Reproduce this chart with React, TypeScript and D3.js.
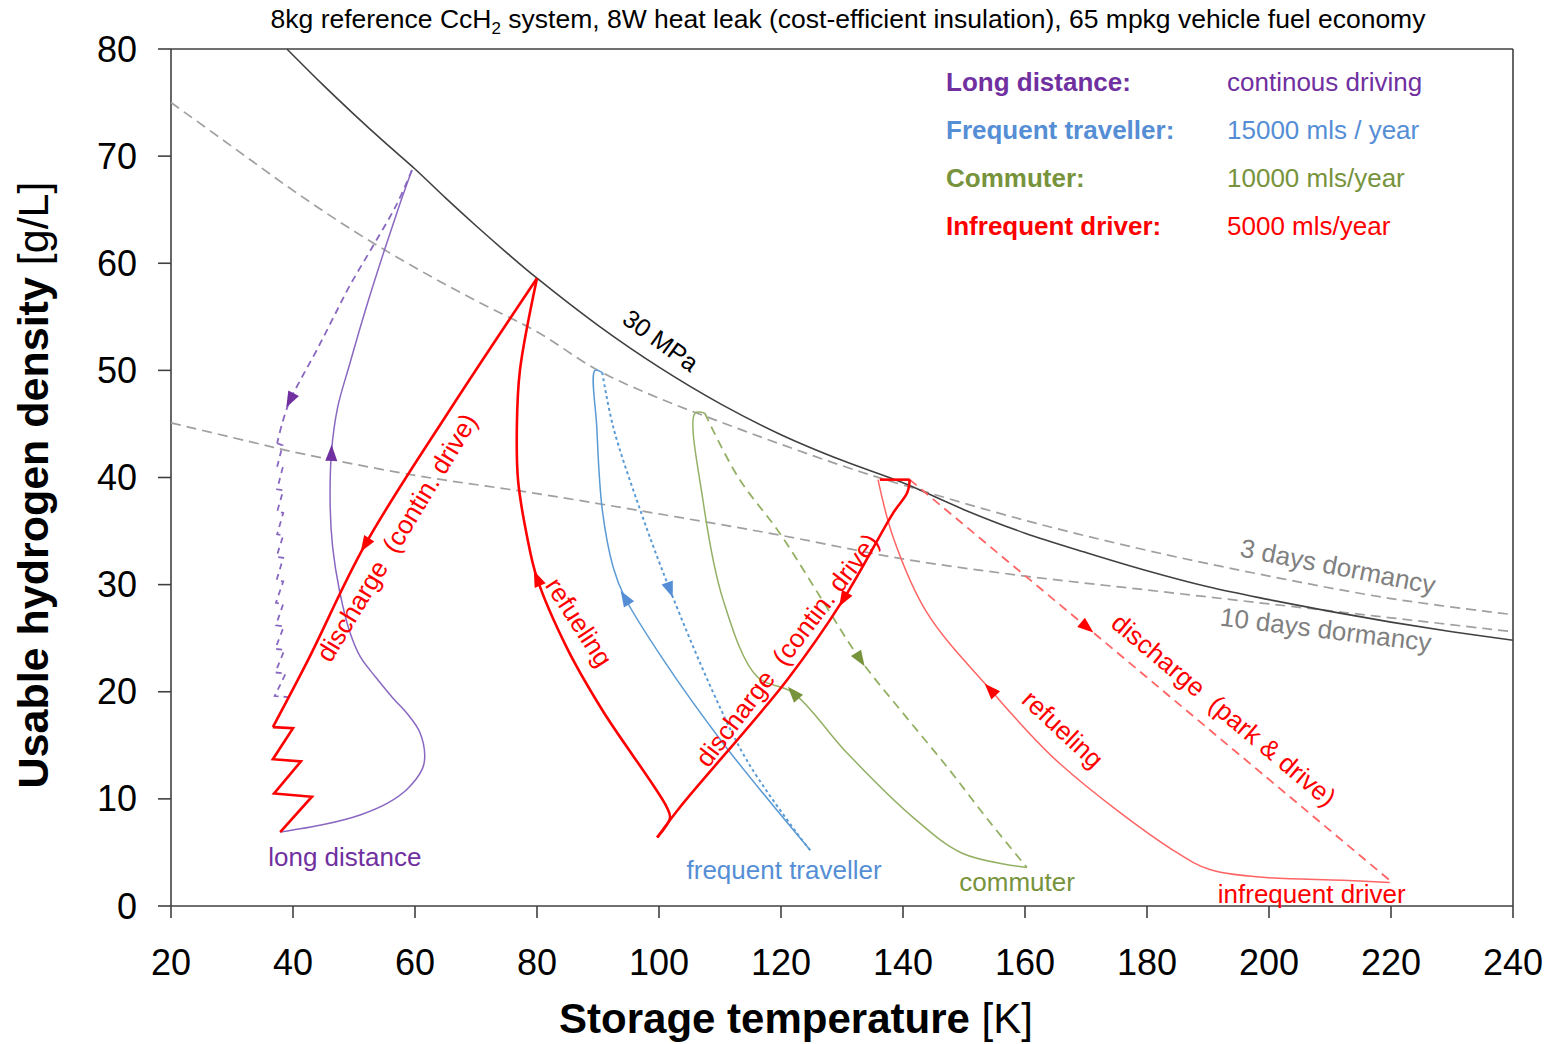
import React from "react";
import * as d3 from "d3";

type P = [number, number];

// ---- axes ----
const xTicks = [20, 40, 60, 80, 100, 120, 140, 160, 180, 200, 220, 240];
const yTicks = [0, 10, 20, 30, 40, 50, 60, 70, 80];

// ---- reference lines ----
const mpa30: P[] = [[39,80],[45,76.6],[50,73.9],[55,71.3],[60,68.8],[65,66.1],[70,63.5],[75,61.0],[80,58.6],[90,54.2],[100,50.3],[110,46.9],[120,44],[130,41.6],[140,39.5],[150,37],[160,34.8],[170,33],[180,31.3],[190,29.8],[200,28.6],[210,27.5],[220,26.5],[230,25.6],[240,24.8]];
const dormancy3: P[] = [[20,75],[30,70.9],[40,66.8],[50,63.0],[60,59.6],[70,56.5],[80,53.6],[90,50.0],[100,47.4],[110,45.2],[120,43.1],[130,41.1],[140,39.3],[160,36.0],[180,33.2],[200,30.8],[220,28.7],[240,27.2]];
const dormancy10: P[] = [[20,45.1],[34,43.2],[40,42.4],[60,40.2],[80,38.5],[100,36.6],[120,34.6],[140,32.4],[160,30.8],[180,29.5],[200,28.2],[220,26.9],[240,25.6]];

// ---- long distance (purple) ----
const ldRefuel: P[] = [[37.9,6.9],[45,7.6],[51.0,8.5],[55.5,9.6],[58.7,10.9],[61.2,12.8],[61.6,14.0],[60.8,16.2],[58.8,17.9],[56.4,19.4],[53.5,21.4],[51.0,23.3],[49.3,25.6],[47.6,29.5],[46.5,33.5],[46.1,37.2],[46.3,42.3],[47.3,46.5],[49.3,50.6],[51.8,55.5],[54.8,60.9],[57.5,65.5],[59.5,68.7]];
const ldDischarge: P[] = [[59.5,68.7],[57.0,65.5],[53.0,61.5],[49.3,57.9],[46.5,54.8],[43.9,51.9],[41.5,49.4],[39.5,47.2],[38.2,45.0],[37.4,43.2]];
const ldSaw: P[] = [[37.4,43.2],[38.3,43.0],[37.4,41.0],[38.3,40.9],[37.4,38.9],[38.4,38.8],[37.4,36.8],[38.4,36.7],[37.4,34.7],[38.4,34.6],[37.3,32.6],[38.4,32.5],[37.3,30.4],[38.4,30.3],[37.2,28.3],[38.4,28.2],[37.2,26.2],[38.5,26.1],[37.1,24.0],[38.6,23.9],[37.1,21.8],[38.8,21.7],[37.0,19.6],[39.2,19.5]];

// ---- red thick cycle (80 K) ----
const redDischarge1: P[] = [[80,58.6],[65.7,46.3],[51.8,33.7],[42.5,23.0],[36.7,16.7]];
const redZigzag: P[] = [[36.7,16.7],[40.0,16.6],[36.7,13.7],[41.3,13.5],[36.9,10.5],[43.1,10.2],[37.9,6.9]];
const redRefuel1: P[] = [[99.7,6.4],[101.8,8.2],[101.3,9.2],[90.8,18.2],[84.9,24.1],[80.0,30.6],[78.4,34.4],[76.9,39.7],[76.7,44.8],[77.2,50.0],[80,58.6]];

// ---- frequent traveller (blue) ----
const ftRefuel: P[] = [[124.8,5.2],[110.5,15.2],[100.7,23.0],[94.4,28.8],[92.5,31.6],[90.7,37.0],[89.8,44.7],[89.5,50.0],[90.7,49.8]];
const ftDischarge: P[] = [[90.7,49.8],[92.5,44.7],[96.9,37.0],[101.8,29.5],[108.9,19.9],[114.4,13.6],[122.6,6.8],[124.8,5.2]];

// ---- commuter (green) ----
const cmRefuel: P[] = [[160.3,3.6],[149.8,4.9],[141.6,8.3],[130.8,14.3],[122.0,19.9],[116.1,21.4],[110.5,28.6],[107.2,37.9],[105.9,46.0],[107.5,46.0]];
const cmDischarge: P[] = [[107.5,46.0],[113.0,40.0],[119.8,34.8],[126.5,28.8],[133.0,23.0],[140.0,18.0],[147.2,13.0],[154.0,8.0],[160.3,3.6]];

// ---- infrequent driver (red) ----
const idTop: P[] = [[136.2,39.8],[141.1,39.8]];
const idDischargeCont: P[] = [[141.1,39.8],[140.7,38.6],[138.4,36.7],[130.2,28.6],[121.0,21.1],[103.4,9.2],[99.7,6.4]];
const idRefuel: P[] = [[219.8,2.2],[212.1,2.4],[198.5,2.7],[190.3,3.4],[184.3,5.2],[165.7,13.3],[154.3,20.2],[143.9,27.4],[138.4,34.4],[135.9,39.8]];
const idParkDrive: P[] = [[141.1,39.8],[170.2,26.0],[220.2,2.2]];

const legendNames = ["Long distance:", "Frequent traveller:", "Commuter:", "Infrequent driver:"];
const legendValues = ["continous driving", "15000 mls / year", "10000 mls/year", "5000 mls/year"];

const C = {
  purple: "#7030A0",
  purpleLine: "#8A68C2",
  blue: "#558ED5",
  blueLine: "#5B9BD5",
  green: "#77933C",
  greenLine: "#94B064",
  red: "#FF0000",
  redThin: "#FF6464",
  gray: "#808080",
  grayLine: "#A0A0A0",
  black: "#404040",
};
const legendColors = [C.purple, C.blue, C.green, C.red];

const W = 1556, H = 1044;
const x = d3.scaleLinear().domain([20, 240]).range([171, 1513]);
const y = d3.scaleLinear().domain([0, 80]).range([906, 49]);

const smooth = d3.line<P>().x(d => x(d[0])).y(d => y(d[1])).curve(d3.curveCatmullRom.alpha(0.5));
const straight = d3.line<P>().x(d => x(d[0])).y(d => y(d[1])).curve(d3.curveLinear);

function arrow(pts: P[], at: P, len = 16, wid = 12): string {
  const Pp = pts.map(p => [x(p[0]), y(p[1])]);
  const T = [x(at[0]), y(at[1])];
  let best = Infinity, Q = T, dir = [1, 0];
  for (let i = 0; i < Pp.length - 1; i++) {
    const a = Pp[i], b = Pp[i + 1];
    const dx = b[0] - a[0], dy = b[1] - a[1];
    const L2 = dx * dx + dy * dy;
    if (L2 === 0) continue;
    let t = ((T[0] - a[0]) * dx + (T[1] - a[1]) * dy) / L2;
    t = Math.max(0, Math.min(1, t));
    const q = [a[0] + t * dx, a[1] + t * dy];
    const dd = Math.hypot(T[0] - q[0], T[1] - q[1]);
    if (dd < best) {
      best = dd; Q = q;
      const L = Math.sqrt(L2);
      dir = [dx / L, dy / L];
    }
  }
  const tip = [Q[0] + dir[0] * len / 2, Q[1] + dir[1] * len / 2];
  const base = [Q[0] - dir[0] * len / 2, Q[1] - dir[1] * len / 2];
  const n = [-dir[1], dir[0]];
  const b1 = [base[0] + n[0] * wid / 2, base[1] + n[1] * wid / 2];
  const b2 = [base[0] - n[0] * wid / 2, base[1] - n[1] * wid / 2];
  return `M${tip[0]},${tip[1]}L${b1[0]},${b1[1]}L${b2[0]},${b2[1]}Z`;
}

const arrows: { pts: P[]; at: P; color: string }[] = [
  { pts: ldDischarge, at: [39.5, 47.2], color: C.purple },
  { pts: ldRefuel, at: [46.3, 42.3], color: C.purple },
  { pts: redDischarge1, at: [51.8, 33.7], color: C.red },
  { pts: redRefuel1, at: [80.0, 30.6], color: C.red },
  { pts: ftRefuel, at: [94.4, 28.8], color: C.blue },
  { pts: ftDischarge, at: [101.8, 29.5], color: C.blue },
  { pts: cmRefuel, at: [122.0, 19.9], color: C.green },
  { pts: cmDischarge, at: [133.0, 23.0], color: C.green },
  { pts: idDischargeCont, at: [130.2, 28.6], color: C.red },
  { pts: idRefuel, at: [154.3, 20.2], color: C.red },
  { pts: idParkDrive, at: [170.2, 26.0], color: C.red },
];

const labels: { text: string; at: P; angle: number; color: string; size: number }[] = [
  { text: "30 MPa", at: [100.3, 52.8], angle: 36, color: "#000", size: 25 },
  { text: "discharge  (contin. drive)", at: [57.0, 34.4], angle: -58.7, color: C.red, size: 26 },
  { text: "refueling", at: [86.9, 26.5], angle: 57, color: C.red, size: 26 },
  { text: "discharge  (contin. drive)", at: [121.0, 23.9], angle: -52.8, color: C.red, size: 26 },
  { text: "refueling", at: [166.2, 16.5], angle: 43, color: C.red, size: 26 },
  { text: "discharge  (park & drive)", at: [192.6, 18.3], angle: 40, color: C.red, size: 26 },
  { text: "3 days dormancy", at: [211.3, 31.7], angle: 11, color: C.gray, size: 26 },
  { text: "10 days dormancy", at: [209.3, 25.8], angle: 7, color: C.gray, size: 26 },
  { text: "long distance", at: [48.5, 4.6], angle: 0, color: C.purple, size: 26 },
  { text: "frequent traveller", at: [120.5, 3.4], angle: 0, color: C.blue, size: 26 },
  { text: "commuter", at: [158.7, 2.2], angle: 0, color: C.green, size: 26 },
  { text: "infrequent driver", at: [207.0, 1.1], angle: 0, color: C.red, size: 26 },
];

export default function App() {
  const font = "Liberation Sans, Arial, sans-serif";
  return (
    <svg width={W} height={H} style={{ position: "absolute", left: 0, top: 0, background: "#fff" }} fontFamily={font}>
      <rect width={W} height={H} fill="#fff" />
      {/* title */}
      <text x={848} y={28} textAnchor="middle" fontSize={26.5} fill="#000">
        8kg reference CcH<tspan dy={6} fontSize={17}>2</tspan>
        <tspan dy={-6}> system, 8W heat leak (cost-efficient insulation), 65 mpkg vehicle fuel economy</tspan>
      </text>

      {/* frame */}
      <g stroke={C.black} strokeWidth={1.6} fill="none">
        <line x1={x(20)} x2={x(20)} y1={y(80)} y2={y(0)} />
        <line x1={x(240)} x2={x(240)} y1={y(80)} y2={y(0)} />
        <line x1={x(20)} x2={x(240)} y1={y(80)} y2={y(80)} />
        <line x1={x(20)} x2={x(240)} y1={y(0)} y2={y(0)} />
        {yTicks.map(t => <line key={"yt" + t} x1={x(20) - 13} x2={x(20)} y1={y(t)} y2={y(t)} />)}
        {xTicks.map(t => <line key={"xt" + t} x1={x(t)} x2={x(t)} y1={y(0)} y2={y(0) + 12} />)}
      </g>
      {yTicks.map(t => (
        <text key={"yl" + t} x={137} y={y(t)} textAnchor="end" dominantBaseline="central" fontSize={36} fill="#000">{t}</text>
      ))}
      {xTicks.map(t => (
        <text key={"xl" + t} x={x(t)} y={975} textAnchor="middle" fontSize={36} fill="#000">{t}</text>
      ))}
      <text x={796} y={1033} textAnchor="middle" fontSize={42} fill="#000">
        <tspan fontWeight="bold">Storage temperature</tspan> [K]
      </text>
      <text transform={`translate(48,485) rotate(-90)`} textAnchor="middle" fontSize={43} fill="#000">
        <tspan fontWeight="bold">Usable hydrogen density</tspan> [g/L]
      </text>

      {/* reference curves */}
      <path d={smooth(dormancy3) || ""} fill="none" stroke={C.grayLine} strokeWidth={1.7} strokeDasharray="10,6" />
      <path d={smooth(dormancy10) || ""} fill="none" stroke={C.grayLine} strokeWidth={1.7} strokeDasharray="10,6" />
      <path d={smooth(mpa30) || ""} fill="none" stroke={C.black} strokeWidth={1.6} />

      {/* long distance */}
      <path d={smooth(ldRefuel) || ""} fill="none" stroke={C.purpleLine} strokeWidth={1.5} />
      <path d={smooth(ldDischarge) || ""} fill="none" stroke={C.purpleLine} strokeWidth={1.8} strokeDasharray="7,5" />
      <path d={straight(ldSaw) || ""} fill="none" stroke={C.purpleLine} strokeWidth={1.8} strokeDasharray="6,5" />

      {/* frequent traveller */}
      <path d={smooth(ftRefuel) || ""} fill="none" stroke={C.blueLine} strokeWidth={1.5} />
      <path d={smooth(ftDischarge) || ""} fill="none" stroke={C.blueLine} strokeWidth={2} strokeDasharray="3,3" />

      {/* commuter */}
      <path d={smooth(cmRefuel) || ""} fill="none" stroke={C.greenLine} strokeWidth={1.5} />
      <path d={smooth(cmDischarge) || ""} fill="none" stroke={C.greenLine} strokeWidth={1.8} strokeDasharray="9,6" />

      {/* infrequent driver */}
      <path d={smooth(idRefuel) || ""} fill="none" stroke={C.redThin} strokeWidth={1.5} />
      <path d={straight(idParkDrive) || ""} fill="none" stroke={C.redThin} strokeWidth={1.8} strokeDasharray="9,6" />
      <path d={straight(idTop) || ""} fill="none" stroke={C.red} strokeWidth={2.6} />
      <path d={smooth(idDischargeCont) || ""} fill="none" stroke={C.red} strokeWidth={2.6} />

      {/* red thick 80 K cycle */}
      <path d={smooth(redRefuel1) || ""} fill="none" stroke={C.red} strokeWidth={2.6} />
      <path d={smooth(redDischarge1) || ""} fill="none" stroke={C.red} strokeWidth={2.6} />
      <path d={straight(redZigzag) || ""} fill="none" stroke={C.red} strokeWidth={2.6} strokeLinejoin="miter" />

      {/* arrows */}
      {arrows.map((a, i) => <path key={"ar" + i} d={arrow(a.pts, a.at)} fill={a.color} />)}

      {/* labels */}
      {labels.map((l, i) => (
        <text key={"lb" + i} transform={`translate(${x(l.at[0])},${y(l.at[1])}) rotate(${l.angle})`}
          textAnchor="middle" dominantBaseline="central" fontSize={l.size} fill={l.color} style={{ whiteSpace: "pre" }}>
          {l.text}
        </text>
      ))}

      {/* legend */}
      {legendNames.map((n, i) => (
        <g key={"lg" + i}>
          <text x={946} y={91 + i * 48} fontSize={26} fontWeight="bold" fill={legendColors[i]}>{n}</text>
          <text x={1227} y={91 + i * 48} fontSize={26} fill={legendColors[i]}>{legendValues[i]}</text>
        </g>
      ))}
    </svg>
  );
}
